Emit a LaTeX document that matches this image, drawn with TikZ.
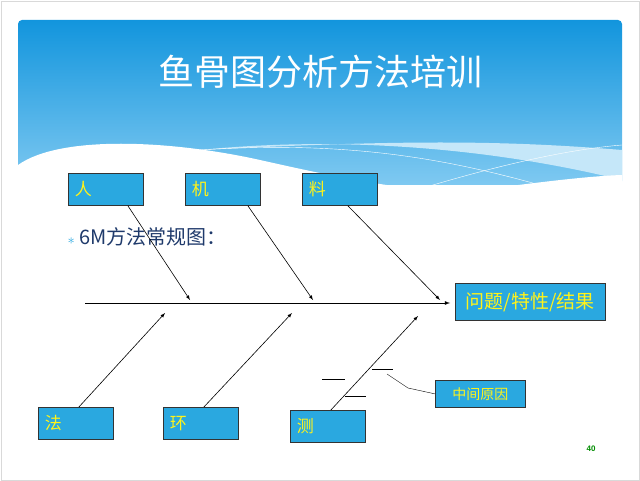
\documentclass[tikz,border=0pt]{standalone}
\usepackage{fontspec}
\setmainfont{Liberation Sans}
\newfontfamily\cjk{Noto Sans CJK SC}
\usetikzlibrary{positioning}
\definecolor{hdtop}{HTML}{1295DD}
\definecolor{hdbot}{HTML}{7FC9F1}
\definecolor{bulletc}{HTML}{1F3A6B}
\definecolor{boxc}{HTML}{2AA8E0}
\tikzset{bone/.style={draw=black!80,fill=boxc,line width=0.8pt,minimum width=75pt,minimum height=32pt,anchor=north west,inner sep=4pt,text=yellow!90!white,font=\cjk\fontsize{17}{17}\selectfont\itshape,align=left}}
\tikzset{cause/.style={bone,text width=62pt}}
\tikzset{>=latex}

\begin{document}
\begin{tikzpicture}[x=1pt,y=-1pt]
    \useasboundingbox (0,0) rectangle (640,481);
    \draw [black!15] (1,1) rectangle (639,480);
    % header
    \shade [top color=hdtop,bottom color=hdbot,rounded corners=4pt] (18,20) rectangle (622,185);
    \fill [white!55!hdbot] (200,150) .. controls (350,135) and (500,150) .. (622,180) -- (622,150) .. controls (500,140) and (400,140) .. (200,150);
    \fill [white] (18,165) .. controls (60,135) and (170,140) .. (260,160) .. controls (340,178) and (420,195) .. (480,190) .. controls (540,182) and (590,176) .. (622,175) -- (622,200) -- (18,200) -- cycle;
    \draw [white,thin] (200,150) .. controls (350,140) and (450,160) .. (540,185);
    \draw [white,thin] (400,195) .. controls (480,170) and (560,150) .. (622,145);
    \node (title) at (320,72) [text=white,font=\cjk\fontsize{36}{36}\selectfont] {鱼骨图分析方法培训};

    \node (ren) [cause] at (68,173) {人};
    \node (ji) [cause] at (185,173) {机};
    \node (liao) [cause] at (302,173) {料};
    \node (fa) [cause] at (38,407) {法};
    \node (huan) [cause] at (163,407) {环};
    \node (ce) [cause] at (290,410) {测};
    \node (res) [bone,font=\cjk\fontsize{19}{19}\selectfont,minimum width=150pt,minimum height=37pt] at (455,283) {问题/特性/结果};
    \node (mid) [bone,font=\cjk\fontsize{14}{14}\selectfont,minimum width=90pt,minimum height=27pt] at (435,380) {中间原因};

    \node (bul) at (64,237) [anchor=west,text=bulletc,font=\cjk\fontsize{20}{20}\selectfont] {{\color{boxc}\fontsize{14}{14}\selectfont$\ast$}\ 6M方法常规图：};

    \coordinate (tail) at (85,303);
    \coordinate (head) at (450,303);
    \draw [->,thick] (tail) -- (head);

    \coordinate (a1) at (190,300); \draw [->,semithick] ([xshift=22pt]ren.south) -- (a1);
    \coordinate (a2) at (313,300); \draw [->,semithick] ([xshift=25pt]ji.south) -- (a2);
    \coordinate (a3) at (440,300); \draw [->,semithick] ([xshift=8pt]liao.south) -- (a3);
    \coordinate (b1) at (165,313); \draw [->,semithick] ([xshift=3pt]fa.north) -- (b1);
    \coordinate (b2) at (292,313); \draw [->,semithick] ([xshift=3pt]huan.north) -- (b2);
    \coordinate (b3) at (418,316); \draw [->,semithick] ([xshift=3pt]ce.north) -- (b3);

    % sub causes
    \draw (322,379) -- (345,379);
    \draw (372,369) -- (393,369);
    \draw (345,396) -- (366,396);
    \draw (387,374) -- (408,388) -- (mid.west);

    \node (page) at (591,449) [text=green!55!black,font=\fontsize{8}{8}\selectfont\bfseries] {40};
\end{tikzpicture}
\end{document}
